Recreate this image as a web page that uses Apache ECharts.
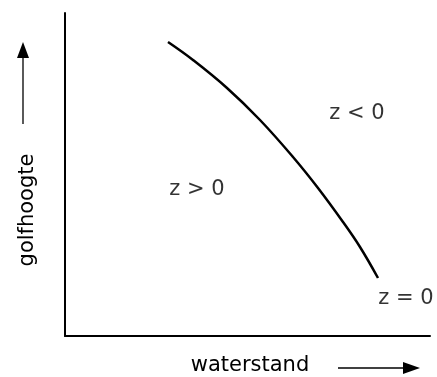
<!DOCTYPE html>
<html>
<head>
<meta charset="utf-8">
<style>html,body{margin:0;padding:0;background:#fff;}#main{width:437px;height:377px;}</style>
<script src="https://cdn.jsdelivr.net/npm/echarts@6/dist/echarts.min.js"></script>
</head>
<body>
<div id="main"></div>
<script>
// curve z = 0 (waterstand, golfhoogte) in plot units
var curveX = [103, 128, 162, 195, 228, 253, 278, 295, 313];
var curveY = [294, 276, 248, 216, 179, 148, 114, 89, 58];
// region labels
var labelNames = ['z > 0', 'z < 0', 'z = 0'];
var labelX = [132, 292, 341];
var labelY = [146, 222, 37];
var xName = 'waterstand';
var yName = 'golfhoogte';

var chart = echarts.init(document.getElementById('main'));
var font = '"DejaVu Sans", sans-serif';

option = {
	backgroundColor: '#fff',
	animation: false,
	grid: { left: 65, top: 13, width: 365, height: 323 },
	xAxis: {
		type: 'value', min: 0, max: 365,
		axisLine: { show: true, onZero: false, lineStyle: { color: '#000', width: 2 } },
		axisTick: { show: false }, axisLabel: { show: false }, splitLine: { show: false }
	},
	yAxis: {
		type: 'value', min: 0, max: 323,
		axisLine: { show: true, onZero: false, lineStyle: { color: '#000', width: 2 } },
		axisTick: { show: false }, axisLabel: { show: false }, splitLine: { show: false }
	},
	series: [{
		type: 'line',
		data: curveX.map(function (x, i) { return [x, curveY[i]]; }),
		smooth: 0.4,
		symbol: 'none',
		lineStyle: { color: '#000', width: 2.5 }
	}, {
		type: 'scatter',
		symbolSize: 0,
		data: labelNames.map(function (n, i) { return { name: n, value: [labelX[i], labelY[i]] }; }),
		label: {
			show: true, position: 'inside', formatter: '{b}',
			color: '#000', fontSize: 21, fontFamily: font
		}
	}],
	graphic: [{
		type: 'text', x: 250, y: 366,
		style: { text: xName, fill: '#000', fontSize: 21, fontFamily: font, align: 'center', verticalAlign: 'middle' }
	}, {
		type: 'line', shape: { x1: 338, y1: 368, x2: 406, y2: 368 },
		style: { stroke: '#000', lineWidth: 1.3 }
	}, {
		type: 'polygon', shape: { points: [[403, 362], [420, 368], [403, 374]] },
		style: { fill: '#000' }
	}, {
		type: 'text', x: 28, y: 210, rotation: Math.PI / 2,
		style: { text: yName, fill: '#000', fontSize: 21, fontFamily: font, align: 'center', verticalAlign: 'middle' }
	}, {
		type: 'line', shape: { x1: 23, y1: 124, x2: 23, y2: 55 },
		style: { stroke: '#000', lineWidth: 1.3 }
	}, {
		type: 'polygon', shape: { points: [[17, 58], [23, 42], [29, 58]] },
		style: { fill: '#000' }
	}]
};

chart.setOption(option);
window.onresize = function () { chart.resize(); };
</script>
</body>
</html>
